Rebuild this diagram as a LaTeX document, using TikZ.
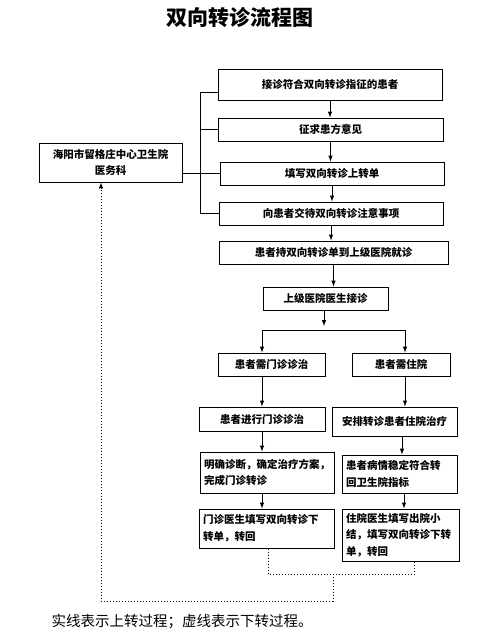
\documentclass[tikz,border=0pt]{standalone}
\usepackage{fontspec}
\newfontfamily\cjk{Noto Sans CJK SC}
\begin{document}
\begin{tikzpicture}[x=1pt, y=-1pt, >=latex,
	box/.style={draw, line width=1pt, inner sep=3pt, font=\cjk\bfseries\fontsize{10.5}{16.5}\selectfont},
	line/.style={line width=1pt},
	down/.style={line width=1pt, dotted}]
		\useasboundingbox (0,0) rectangle (500,638);
		%title
		\node (title) at (240,18) {\cjk\bfseries\fontsize{21}{24}\selectfont 双向转诊流程图};
		
		%upward transfer
		\node (b1) at (330,84.5) [box, minimum width=224, minimum height=31]{接诊符合双向转诊指征的患者};
		\node (b2) at (330.5,129.5) [box, minimum width=225, minimum height=23]{征求患方意见};
		\node (b3) at (332,173.5) [box, minimum width=224, minimum height=23]{填写双向转诊上转单};
		\node (b4) at (331,213.5) [box, minimum width=224, minimum height=23]{向患者交待双向转诊注意事项};
		\node (hosp) at (110.5,162.5) [box, minimum width=143, minimum height=39, align=center]{海阳市留格庄中心卫生院\\医务科};
		\node (b5) at (333.5,252.5) [box, minimum width=229, minimum height=23]{患者持双向转诊单到上级医院就诊};
		\node (b6) at (325.5,298.5) [box, minimum width=125, minimum height=23]{上级医院医生接诊};
		
		%bracket to the left box
		\coordinate (bt) at (200,92);
		\coordinate (bb) at (200,213.5);
		\draw[line] (bt) -- (bb);
		\draw[line] (bt) -- (bt -| b1.west);
		\draw[line] (b2.west -| bt) -- (b2.west);
		\draw[line] (hosp.east |- b3.west) -- (b3.west);
		\draw[line] (bb) -- (b4.west);
		
		\foreach \a/\b in {b1/b2, b2/b3, b3/b4, b4/b5, b5/b6}{
			\draw[line, ->] (\a.south) -- (\a.south |- \b.north);
		}
		
		%branches
		\node (b7) at (271.5,364.5) [box, minimum width=107, minimum height=23]{患者需门诊诊治};
		\node (b8) at (401,364.5) [box, minimum width=98, minimum height=23]{患者需住院};
		\node (b9) at (262,419) [box, minimum width=126, minimum height=24]{患者进行门诊诊治};
		\node (b10) at (394.5,421.5) [box, minimum width=125, minimum height=29]{安排转诊患者住院治疗};
		\node (b11) at (267,472.5) [box, minimum width=134, minimum height=41, text width=126, align=left]{明确诊断，确定治疗方案，\\完成门诊转诊};
		\node (b12) at (399.5,474) [box, minimum width=115, minimum height=38, text width=107, align=left]{患者病情稳定符合转\\回卫生院指标};
		\node (b13) at (266.5,528.5) [box, minimum width=135, minimum height=39, text width=127, align=left]{门诊医生填写双向转诊下\\转单，转回};
		\node (b14) at (400.5,535) [box, minimum width=117, minimum height=52, text width=109, align=left]{住院医生填写出院小\\结，填写双向转诊下转\\单，转回};
		
		\coordinate (sm) at (324,326);
		\coordinate (sl) at (262,330);
		\coordinate (sr) at (405,330);
		\coordinate (cr) at (402,440);
		\coordinate (er) at (404,500);
		\draw[line, ->] (b6.south -| sm) -- (sm);
		\draw[line] (sl) -- (sr);
		\draw[line, ->] (sl) -- (sl |- b7.north);
		\draw[line, ->] (sr) -- (sr |- b8.north);
		\draw[line, ->] (b7.south -| sl) -- (b9.north -| sl);
		\draw[line, ->] (b8.south -| sr) -- (b10.north -| sr);
		\draw[line, ->] (b9.south -| sl) -- (b11.north -| sl);
		\draw[line, ->] (b10.south -| cr) -- (b12.north -| cr);
		\draw[line, ->] (b11.south -| sl) -- (b13.north -| sl);
		\draw[line, ->] (b12.south -| er) -- (b14.north -| er);
		
		%downward transfer
		\coordinate (dl) at (268,574);
		\coordinate (dr) at (414,574);
		\coordinate (dm) at (333,574);
		\coordinate (dd) at (333,601);
		\coordinate (dx) at (101,601);
		\draw[down] (b13.south -| dl) -- (dl) -- (dr) -- (b14.south -| dr);
		\draw[down, ->] (dm) -- (dd) -- (dx) -- (hosp.south -| dx);
		
		\node (note) at (48,622) [anchor=west, font=\cjk\fontsize{14.5}{16}\selectfont]{实线表示上转过程；虚线表示下转过程。};
\end{tikzpicture}
\end{document}
